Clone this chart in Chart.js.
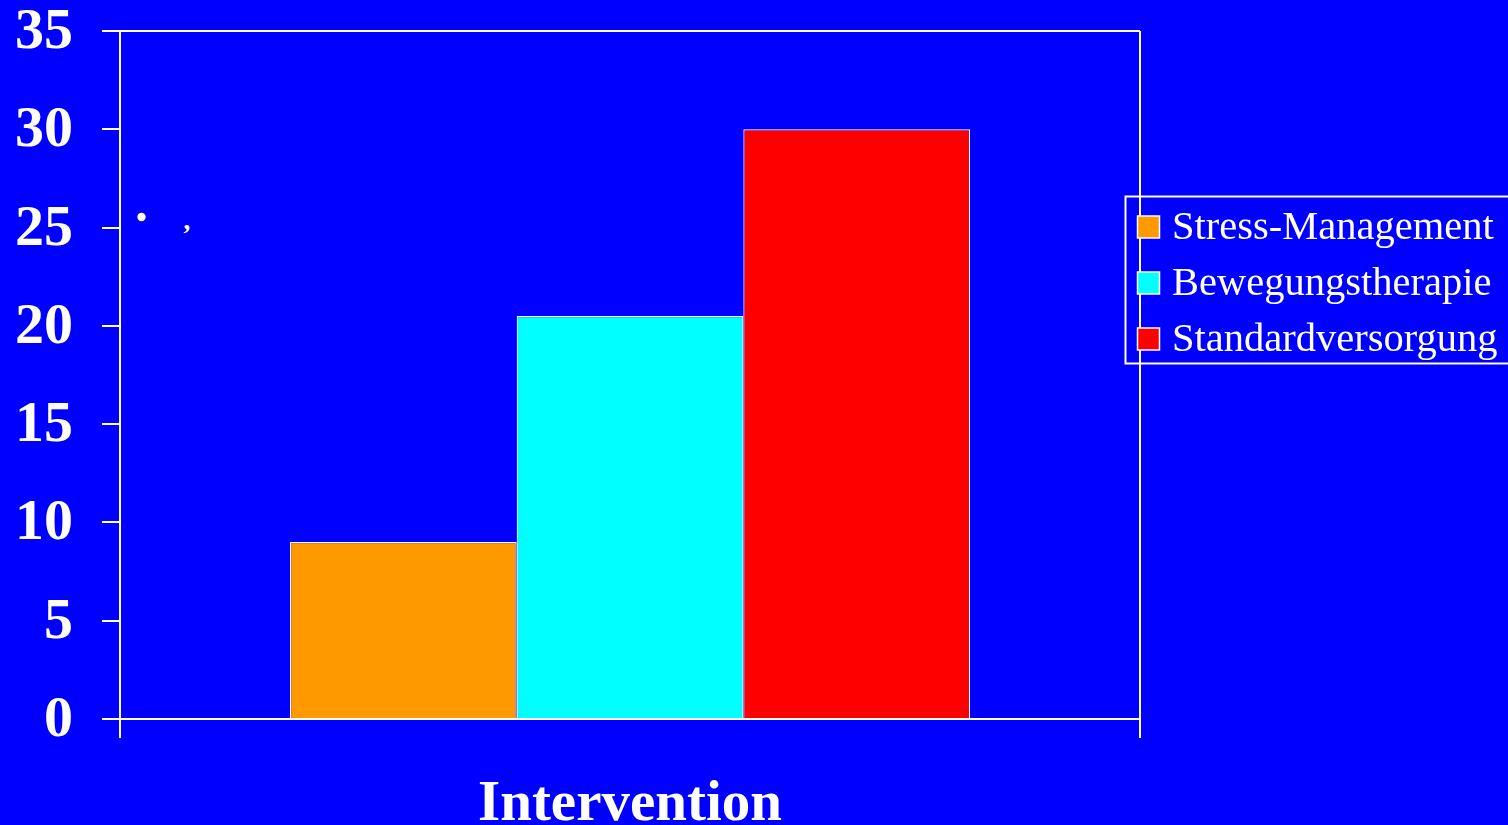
<!DOCTYPE html>
<html>
<head>
<meta charset="utf-8">
<script src="https://cdn.jsdelivr.net/npm/chart.js@4"></script>
<style>
  html, body { margin: 0; padding: 0; background: #0000ff; overflow: hidden; }
  canvas { display: block; }
</style>
</head>
<body>
<canvas id="c" width="1508" height="825"></canvas>
<script>
const categories = ['Intervention'];
const seriesNames = ['Stress-Management', 'Bewegungstherapie', 'Standardversorgung'];
const seriesValues = [[9], [20.5], [30]];
const seriesColors = ['#ff9900', '#00ffff', '#ff0000'];
const yTicks = [0, 5, 10, 15, 20, 25, 30, 35];

const BG = '#0000ff';
const FG = '#ffffff';
const SERIF = "'Liberation Serif', 'Times New Roman', serif";

const bgPlugin = {
  id: 'bg',
  beforeDraw(chart) {
    const ctx = chart.ctx;
    ctx.save();
    ctx.fillStyle = BG;
    ctx.fillRect(0, 0, chart.width, chart.height);
    ctx.restore();
  }
};

const legendPlugin = {
  id: 'boxLegend',
  afterDraw(chart) {
    const ctx = chart.ctx;
    ctx.save();
    // stray marks present in the source image
    ctx.fillStyle = FG;
    ctx.beginPath();
    ctx.arc(141.5, 217, 4.2, 0, Math.PI * 2);
    ctx.fill();
    ctx.font = 'bold 28px ' + SERIF;
    ctx.textAlign = 'center';
    ctx.textBaseline = 'alphabetic';
    ctx.fillText(',', 187, 229);

    // legend frame
    ctx.strokeStyle = FG;
    ctx.lineWidth = 2;
    ctx.strokeRect(1125.5, 196.5, 420, 167);
    ctx.font = '40.5px ' + SERIF;
    ctx.textAlign = 'left';
    ctx.textBaseline = 'middle';
    chart.data.datasets.forEach((ds, i) => {
      const cy = 227 + i * 56;
      ctx.fillStyle = ds.backgroundColor;
      ctx.fillRect(1137.5, cy - 11, 22, 22);
      ctx.lineWidth = 1.5;
      ctx.strokeStyle = FG;
      ctx.strokeRect(1137.5, cy - 11, 22, 22);
      ctx.fillStyle = FG;
      ctx.fillText(ds.label, 1172, cy + 1);
    });
    ctx.restore();
  }
};

new Chart(document.getElementById('c'), {
  type: 'bar',
  data: {
    labels: categories,
    datasets: seriesNames.map((name, i) => ({
      label: name,
      data: seriesValues[i],
      backgroundColor: seriesColors[i],
      borderColor: FG,
      borderWidth: 1.2,
      barPercentage: 1,
      categoryPercentage: 680 / 1020
    }))
  },
  options: {
    responsive: false,
    devicePixelRatio: 1,
    animation: false,
    layout: { padding: { left: 0, right: 368, top: 31, bottom: 0 } },
    plugins: { legend: { display: false }, tooltip: { enabled: false } },
    scales: {
      x: {
        offset: true,
        grid: {
          offset: true,
          display: true,
          drawOnChartArea: true,
          color: FG,
          tickColor: FG,
          lineWidth: 2,
          tickLength: 19
        },
        border: { display: true, color: FG, width: 2 },
        ticks: {
          color: FG,
          font: { family: SERIF, size: 57, weight: 'bold' },
          padding: 33,
          maxRotation: 0,
          autoSkip: false
        },
        afterFit(scale) {
          scale.height = 106;
          scale.paddingLeft = 0;
          scale.paddingRight = 0;
        }
      },
      y: {
        min: 0,
        max: 35,
        afterBuildTicks(scale) {
          scale.ticks = yTicks.map(v => ({ value: v }));
        },
        grid: {
          drawOnChartArea: true,
          color: (c) => (c.tick && c.tick.value === 35 ? FG : 'rgba(0,0,0,0)'),
          tickColor: FG,
          lineWidth: 2,
          tickLength: 18
        },
        border: { display: true, color: FG, width: 2 },
        ticks: {
          color: FG,
          font: { family: SERIF, size: 58, weight: 'bold' },
          padding: 29,
          labelOffset: 2
        },
        afterFit(scale) {
          scale.width = 120;
          scale.paddingTop = 0;
          scale.paddingBottom = 0;
        }
      }
    }
  },
  plugins: [bgPlugin, legendPlugin]
});
</script>
</body>
</html>
